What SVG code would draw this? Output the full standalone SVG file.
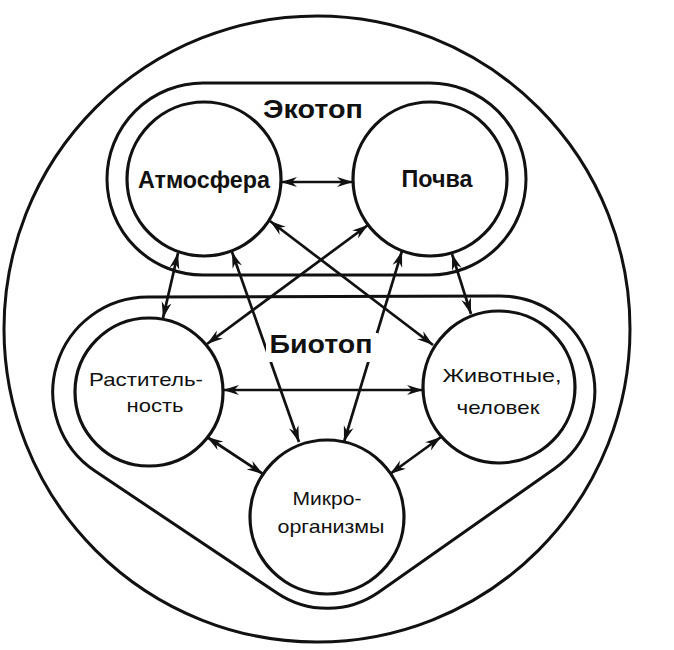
<svg xmlns="http://www.w3.org/2000/svg" width="674" height="650" viewBox="0 0 674 650">
<style>
.ln{fill:none;stroke:#111;stroke-width:3}
.node{fill:#fff;stroke:#111;stroke-width:3.2}
.cn{fill:none;stroke:#111;stroke-width:2.7;marker-start:url(#ah);marker-end:url(#ah)}
.tb{font-family:"Liberation Sans",Arial,sans-serif;font-weight:bold;fill:#111;text-anchor:middle}
.tr{font-family:"Liberation Sans",Arial,sans-serif;fill:#111;text-anchor:middle;font-size:19px}
</style>
<defs>
<marker id="ah" markerUnits="userSpaceOnUse" markerWidth="18" markerHeight="12" refX="16" refY="6" orient="auto-start-reverse">
<path d="M0,1 L16,6 L0,11 L5,6 Z" fill="#111"/>
</marker>
</defs>
<rect width="674" height="650" fill="#fff"/>
<g id="outer">
<circle class="ln" cx="317" cy="329" r="313"/>
</g>
<g id="ecotope">
<path class="ln" d="M203,83 L430,83 A96,96 0 0 1 430,275 L203,275 A96,96 0 0 1 203,83 Z"/>
</g>
<g id="biotope">
<path class="ln" d="M148,297 L499,296 A95,95 0 0 1 554,469 L379,592 A90,90 0 0 1 277,593 L95,471 A95,95 0 0 1 148,297 Z"/>
</g>
<g id="connectors">
<line class="cn" x1="281" y1="182" x2="353" y2="182"/>
<line class="cn" x1="163" y1="318" x2="178" y2="253"/>
<line class="cn" x1="232" y1="252" x2="299" y2="442"/>
<line class="cn" x1="270" y1="221" x2="433" y2="345"/>
<line class="cn" x1="368" y1="225" x2="207" y2="344"/>
<line class="cn" x1="402" y1="251" x2="344" y2="442"/>
<line class="cn" x1="452" y1="254" x2="471" y2="314"/>
<line class="cn" x1="223" y1="390" x2="423" y2="390"/>
<line class="cn" x1="207" y1="437" x2="263" y2="474"/>
<line class="cn" x1="441" y1="437" x2="390" y2="474"/>
</g>
<g id="ecotope-label">
<text class="tb" x="313" y="118" font-size="26" textLength="100" lengthAdjust="spacingAndGlyphs">Экотоп</text>
</g>
<g id="biotope-label">
<rect x="266" y="333" width="112" height="29" fill="#fff"/>
<text class="tb" x="321" y="353" font-size="25" textLength="103" lengthAdjust="spacingAndGlyphs">Биотоп</text>
</g>
<g id="atmosphere">
<circle class="node" cx="204" cy="179" r="77"/>
<text class="tb" x="204" y="188" font-size="23" textLength="132" lengthAdjust="spacingAndGlyphs">Атмосфера</text>
</g>
<g id="soil">
<circle class="node" cx="430" cy="179" r="77"/>
<text class="tb" x="437" y="187" font-size="23" textLength="71" lengthAdjust="spacingAndGlyphs">Почва</text>
</g>
<g id="plants">
<circle class="node" cx="149" cy="392" r="74"/>
<text class="tr" x="146" y="386" textLength="114" lengthAdjust="spacingAndGlyphs">Раститель-</text>
<text class="tr" x="155" y="412" textLength="57" lengthAdjust="spacingAndGlyphs">ность</text>
</g>
<g id="animals">
<circle class="node" cx="499" cy="387" r="76"/>
<text class="tr" x="502" y="382" textLength="119" lengthAdjust="spacingAndGlyphs">Животные,</text>
<text class="tr" x="498" y="414" textLength="83" lengthAdjust="spacingAndGlyphs">человек</text>
</g>
<g id="microorganisms">
<circle class="node" cx="327" cy="517" r="77"/>
<text class="tr" x="327" y="505" textLength="69" lengthAdjust="spacingAndGlyphs">Микро-</text>
<text class="tr" x="331" y="533" textLength="107" lengthAdjust="spacingAndGlyphs">организмы</text>
</g>
</svg>
